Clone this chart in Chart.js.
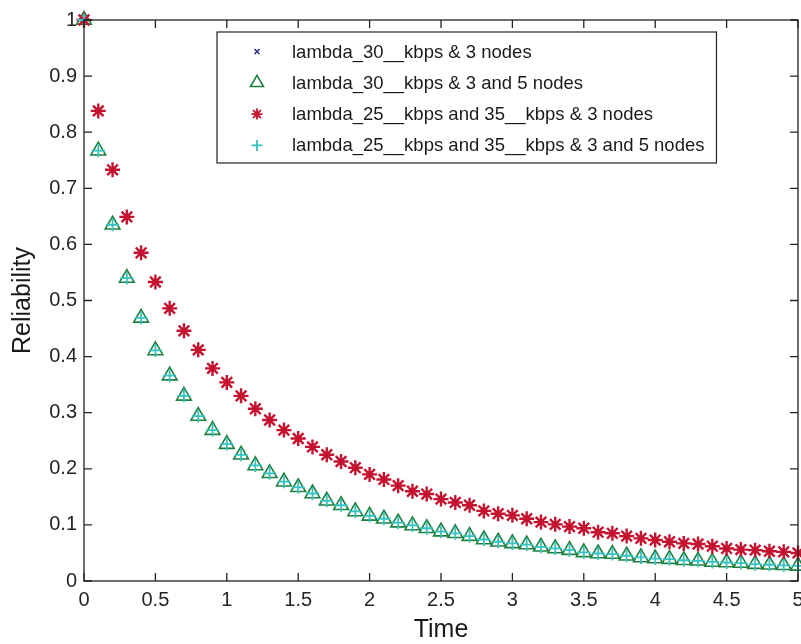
<!DOCTYPE html>
<html lang="en">
<head>
    <meta charset="UTF-8">
    <title>Reliability vs Time</title>
    <script src="https://cdn.jsdelivr.net/npm/chart.js"></script>
    <style>
        body { margin: 0; background: #fff; overflow: hidden; }
        #chart { display: block; }
    </style>
</head>
<body>
    <canvas id="chart" width="801" height="644"></canvas>

    <script>
        // time samples (x)
        const times = [0, 0.1, 0.2, 0.3, 0.4, 0.5, 0.6, 0.7, 0.8, 0.9,
                       1, 1.1, 1.2, 1.3, 1.4, 1.5, 1.6, 1.7, 1.8, 1.9,
                       2, 2.1, 2.2, 2.3, 2.4, 2.5, 2.6, 2.7, 2.8, 2.9,
                       3, 3.1, 3.2, 3.3, 3.4, 3.5, 3.6, 3.7, 3.8, 3.9,
                       4, 4.1, 4.2, 4.3, 4.4, 4.5, 4.6, 4.7, 4.8, 4.9, 5];

        // upper curve (3 nodes)
        const reliability3Nodes = [1.000, 0.838, 0.733, 0.649, 0.585, 0.533, 0.486, 0.446, 0.412, 0.379,
                                   0.354, 0.330, 0.307, 0.287, 0.269, 0.254, 0.239, 0.225, 0.213, 0.202,
                                   0.190, 0.181, 0.170, 0.160, 0.155, 0.146, 0.140, 0.135, 0.125, 0.120,
                                   0.117, 0.111, 0.105, 0.101, 0.097, 0.094, 0.087, 0.085, 0.080, 0.076,
                                   0.073, 0.070, 0.067, 0.066, 0.062, 0.058, 0.056, 0.055, 0.053, 0.052, 0.050];

        // lower curve (3 and 5 nodes)
        const reliability35Nodes = [1.000, 0.767, 0.635, 0.540, 0.469, 0.411, 0.366, 0.330, 0.294, 0.269,
                                    0.244, 0.225, 0.206, 0.192, 0.177, 0.167, 0.156, 0.143, 0.135, 0.124,
                                    0.116, 0.111, 0.104, 0.099, 0.094, 0.088, 0.085, 0.080, 0.074, 0.070,
                                    0.067, 0.065, 0.061, 0.058, 0.055, 0.051, 0.049, 0.048, 0.045, 0.042,
                                    0.040, 0.039, 0.037, 0.036, 0.034, 0.033, 0.032, 0.030, 0.029, 0.028, 0.027];

        const seriesNames = [
            'lambda_30__kbps & 3 nodes',
            'lambda_30__kbps & 3 and 5 nodes',
            'lambda_25__kbps and 35__kbps & 3 nodes',
            'lambda_25__kbps and 35__kbps & 3 and 5 nodes'
        ];

        const xTickValues = [0, 0.5, 1, 1.5, 2, 2.5, 3, 3.5, 4, 4.5, 5];
        const xTickLabels = ['0', '0.5', '1', '1.5', '2', '2.5', '3', '3.5', '4', '4.5', '5'];
        const yTickValues = [0, 0.1, 0.2, 0.3, 0.4, 0.5, 0.6, 0.7, 0.8, 0.9, 1];
        const yTickLabels = ['0', '0.1', '0.2', '0.3', '0.4', '0.5', '0.6', '0.7', '0.8', '0.9', '1'];

        const FONT = "'Liberation Sans', Arial, sans-serif";

        function points(values) {
            return times.map((t, i) => ({ x: t, y: values[i] }));
        }

        // marker look for each series (plot + legend)
        const markers = [
            { style: 'crossRot', color: '#2b2b8c', radius: 4.5, width: 1.5, order: 4 },
            { style: 'triangle', color: '#1e8040', radius: 8.5, width: 1.6, order: 3 },
            { style: 'star', color: '#c4122f', radius: 7.5, width: 2.4, order: 2 },
            { style: 'cross', color: '#36c2c0', radius: 6.5, width: 1.8, order: 1 }
        ];
        const seriesValues = [reliability3Nodes, reliability35Nodes, reliability3Nodes, reliability35Nodes];

        const datasets = seriesNames.map((name, i) => ({
            label: name,
            data: points(seriesValues[i]),
            showLine: false,
            pointStyle: markers[i].style,
            pointRadius: markers[i].radius,
            pointBorderColor: markers[i].color,
            pointBackgroundColor: 'rgba(0,0,0,0)',
            pointBorderWidth: markers[i].width,
            order: markers[i].order,
            clip: false
        }));

        function drawMarker(ctx, m, x, y, r) {
            ctx.save();
            ctx.strokeStyle = m.color;
            ctx.lineWidth = Math.min(m.width, 1.8);
            ctx.beginPath();
            if (m.style === 'triangle') {
                ctx.moveTo(x, y - r);
                ctx.lineTo(x + r * 0.866, y + r / 2);
                ctx.lineTo(x - r * 0.866, y + r / 2);
                ctx.closePath();
            } else {
                const d = r * 0.7071;
                if (m.style === 'cross' || m.style === 'star') {
                    ctx.moveTo(x - r, y); ctx.lineTo(x + r, y);
                    ctx.moveTo(x, y - r); ctx.lineTo(x, y + r);
                }
                if (m.style === 'crossRot' || m.style === 'star') {
                    ctx.moveTo(x - d, y - d); ctx.lineTo(x + d, y + d);
                    ctx.moveTo(x - d, y + d); ctx.lineTo(x + d, y - d);
                }
            }
            ctx.stroke();
            ctx.restore();
        }

        // matlab style box, inward ticks and legend
        const matlabFrame = {
            id: 'matlabFrame',
            afterDraw(chart) {
                const ctx = chart.ctx;
                const a = chart.chartArea;
                const xs = chart.scales.x, ys = chart.scales.y;
                const tl = 8;
                ctx.save();
                ctx.strokeStyle = '#222';
                ctx.lineWidth = 1.3;
                ctx.beginPath();
                xTickValues.forEach(v => {
                    const px = xs.getPixelForValue(v);
                    ctx.moveTo(px, a.bottom); ctx.lineTo(px, a.bottom - tl);
                    ctx.moveTo(px, a.top); ctx.lineTo(px, a.top + tl);
                });
                yTickValues.forEach(v => {
                    const py = ys.getPixelForValue(v);
                    ctx.moveTo(a.left, py); ctx.lineTo(a.left + tl, py);
                    ctx.moveTo(a.right, py); ctx.lineTo(a.right - tl, py);
                });
                ctx.stroke();
                ctx.strokeRect(a.left, a.top, a.right - a.left, a.bottom - a.top);

                // legend
                ctx.font = '18.5px ' + FONT;
                const textW = Math.max(...seriesNames.map(n => ctx.measureText(n).width));
                const bx = a.left + 133, by = a.top + 12;
                const bw = 75 + textW + 12, bh = 131;
                ctx.fillStyle = '#fff';
                ctx.fillRect(bx, by, bw, bh);
                ctx.lineWidth = 1.2;
                ctx.strokeStyle = '#222';
                ctx.strokeRect(bx, by, bw, bh);
                ctx.textBaseline = 'middle';
                ctx.textAlign = 'left';
                seriesNames.forEach((name, i) => {
                    const ry = by + 19.5 + i * 31.3;
                    const m = markers[i];
                    drawMarker(ctx, m, bx + 40, ry, m.style === 'triangle' ? 7.5 : (m.style === 'crossRot' ? 3.5 : 5.5));
                    ctx.fillStyle = '#1a1a1a';
                    ctx.fillText(name, bx + 75, ry + 1);
                });
                ctx.restore();
            }
        };

        const ctx = document.getElementById('chart').getContext('2d');
        const chart = new Chart(ctx, {
            type: 'scatter',
            data: { datasets: datasets },
            options: {
                responsive: false,
                animation: false,
                devicePixelRatio: 1,
                layout: { padding: { top: 20, right: 3, left: 0, bottom: 0 }, autoPadding: false },
                plugins: { legend: { display: false }, tooltip: { enabled: false } },
                scales: {
                    x: {
                        type: 'linear',
                        min: 0,
                        max: 5,
                        afterBuildTicks: s => { s.ticks = xTickValues.map(v => ({ value: v })); },
                        afterFit: s => { s.height = 63; s.paddingLeft = 0; s.paddingRight = 0; },
                        grid: { display: false, drawTicks: false },
                        border: { display: false },
                        ticks: {
                            callback: (v, i) => xTickLabels[i],
                            font: { family: FONT, size: 20 },
                            color: '#262626',
                            padding: 7,
                            maxRotation: 0,
                            autoSkip: false
                        },
                        title: {
                            display: true,
                            text: 'Time',
                            font: { family: FONT, size: 25, lineHeight: 1 },
                            color: '#1a1a1a',
                            padding: { top: 0, bottom: 1 }
                        }
                    },
                    y: {
                        type: 'linear',
                        min: 0,
                        max: 1,
                        afterBuildTicks: s => { s.ticks = yTickValues.map(v => ({ value: v })); },
                        afterFit: s => { s.width = 84; s.paddingTop = 0; s.paddingBottom = 0; },
                        grid: { display: false, drawTicks: false },
                        border: { display: false },
                        ticks: {
                            callback: (v, i) => yTickLabels[i],
                            font: { family: FONT, size: 20 },
                            color: '#262626',
                            padding: 7,
                            autoSkip: false
                        },
                        title: {
                            display: true,
                            text: 'Reliability',
                            font: { family: FONT, size: 25, lineHeight: 1.2 },
                            color: '#1a1a1a',
                            padding: { top: 8, bottom: 0 }
                        }
                    }
                }
            },
            plugins: [matlabFrame]
        });
    </script>
</body>
</html>
